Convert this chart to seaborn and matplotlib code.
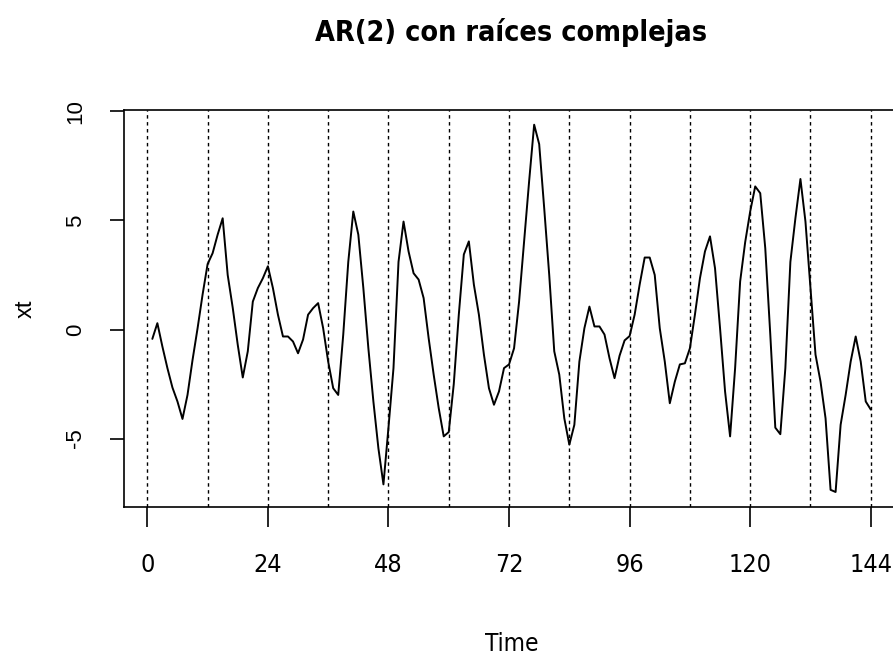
import matplotlib
matplotlib.use("Agg")
import matplotlib.pyplot as plt
from matplotlib import font_manager as fm
import numpy as np
import pandas as pd
import seaborn as sns

# ---- data ----
time = list(range(1, 145))
xt = [
    -0.43, 0.29, -0.78, -1.77, -2.66, -3.3, -4.1, -3.0, -1.4, 0.05, 1.6, 3.0,
    3.5, 4.35, 5.1, 2.5, 1.0, -0.7, -2.2, -1.0, 1.28, 1.9, 2.35, 2.9,
    1.9, 0.68, -0.32, -0.32, -0.55, -1.09, -0.46, 0.68, 0.98, 1.21, 0.06, -1.47,
    -2.69, -3.0, -0.23, 3.1, 5.41, 4.35, 1.9, -0.86, -3.3, -5.45, -7.1, -4.5,
    -1.77, 3.1, 4.95, 3.58, 2.58, 2.29, 1.44, -0.4, -2.07, -3.6, -4.9, -4.7,
    -2.5, 0.68, 3.44, 4.04, 2.06, 0.68, -1.15, -2.69, -3.45, -2.84, -1.77, -1.6,
    -0.86, 1.28, 4.04, 6.8, 9.39, 8.5, 5.56, 2.5, -1.0, -2.07, -4.07, -5.28,
    -4.37, -1.47, 0.06, 1.05, 0.14, 0.14, -0.23, -1.32, -2.23, -1.2, -0.5, -0.3,
    0.68, 2.06, 3.3, 3.3, 2.5, 0.06, -1.47, -3.38, -2.39, -1.6, -1.55, -0.86,
    0.68, 2.35, 3.58, 4.27, 2.81, 0.06, -2.84, -4.9, -1.77, 2.2, 4.0, 5.41,
    6.56, 6.25, 3.73, -0.23, -4.5, -4.8, -1.77, 3.1, 5.1, 6.9, 4.95, 1.9,
    -1.15, -2.39, -4.07, -7.35, -7.45, -4.37, -3.0, -1.47, -0.32, -1.47, -3.3, -3.67,
]
vlines = list(range(0, 145, 12))
xticks = [0, 24, 48, 72, 96, 120, 144]
yticks = [-5, 0, 5, 10]
title = "AR(2) con raíces complejas"
xlabel = "Time"
ylabel = "xt"

sns.set_theme(style="ticks")
names = {f.name for f in fm.fontManager.ttflist}
regular = "Liberation Sans" if "Liberation Sans" in names else "DejaVu Sans"
plt.rcParams["font.family"] = [regular, "DejaVu Sans"]
plt.rcParams["text.color"] = "black"
plt.rcParams["axes.labelcolor"] = "black"

# look for a condensed / narrow face
def find_narrow(bold):
    best = None
    for f in fm.fontManager.ttflist:
        nm = f.name
        st = str(f.stretch).lower()
        is_narrow = ("Narrow" in nm) or ("Condensed" in nm) or st in ("condensed", "semi-condensed", "extra-condensed")
        if not is_narrow:
            continue
        w = f.weight if isinstance(f.weight, int) else (700 if "bold" in str(f.weight).lower() else 400)
        if f.style != "normal":
            continue
        if bold and w >= 600:
            return f.fname
        if (not bold) and w < 600:
            best = best or f.fname
    return best

nreg = find_narrow(False)
nbold = find_narrow(True)
if nreg:
    fp_tick = fm.FontProperties(fname=nreg, size=18)
    fp_xlab = fm.FontProperties(fname=nreg, size=17.5)
else:
    fp_tick = fm.FontProperties(family=regular, size=16)
    fp_xlab = fm.FontProperties(family=regular, size=16)
if nbold:
    fp_title = fm.FontProperties(fname=nbold, size=20.6)
else:
    fp_title = fm.FontProperties(family=regular, weight="bold", size=19.5)

W, H = 893, 666
fig = plt.figure(figsize=(W / 100, H / 100), dpi=100)
left, right, top, bottom = 123.6, 899.5, 110.0, 506.7
ax = fig.add_axes([left / W, 1 - bottom / H, (right - left) / W, (bottom - top) / H])

df = pd.DataFrame({"Time": time, "xt": xt})
sns.lineplot(data=df, x="Time", y="xt", color="black", linewidth=1.4, ax=ax)
for v in vlines:
    ax.axvline(v, color="black", linewidth=1.0, linestyle=(0, (2.5, 2.5)), zorder=1)

xmin, xmax = min(time), max(time)
rx = xmax - xmin
ax.set_xlim(xmin - 0.04 * rx, xmax + 0.04 * rx)
ymin, ymax = min(xt), max(xt)
ry = ymax - ymin
ax.set_ylim(ymin - 0.04 * ry, ymax + 0.04 * ry)

for s in ax.spines.values():
    s.set_visible(True)
    s.set_color("black")
    s.set_linewidth(1.2)

ax.set_xticks(xticks)
ax.set_xticklabels([str(v) for v in xticks], fontproperties=fp_tick, color="black")
ax.set_yticks(yticks)
ax.set_yticklabels([str(v) for v in yticks], fontfamily=regular, fontsize=16,
                   rotation=90, va="center", color="black")
ax.tick_params(axis="x", length=14.4, width=1.2, pad=19, colors="black")
ax.tick_params(axis="y", length=10, width=1.2, pad=17, colors="black")

ax.set_title(title, fontproperties=fp_title, pad=50, color="black")
ax.set_xlabel(xlabel, fontproperties=fp_xlab, color="black")
ax.xaxis.set_label_coords(0.5, -0.315)
ax.set_ylabel(ylabel, fontfamily=regular, fontsize=17, color="black")
ax.yaxis.set_label_coords(-0.112, 0.5)

fig.savefig("out.png", dpi=100)
